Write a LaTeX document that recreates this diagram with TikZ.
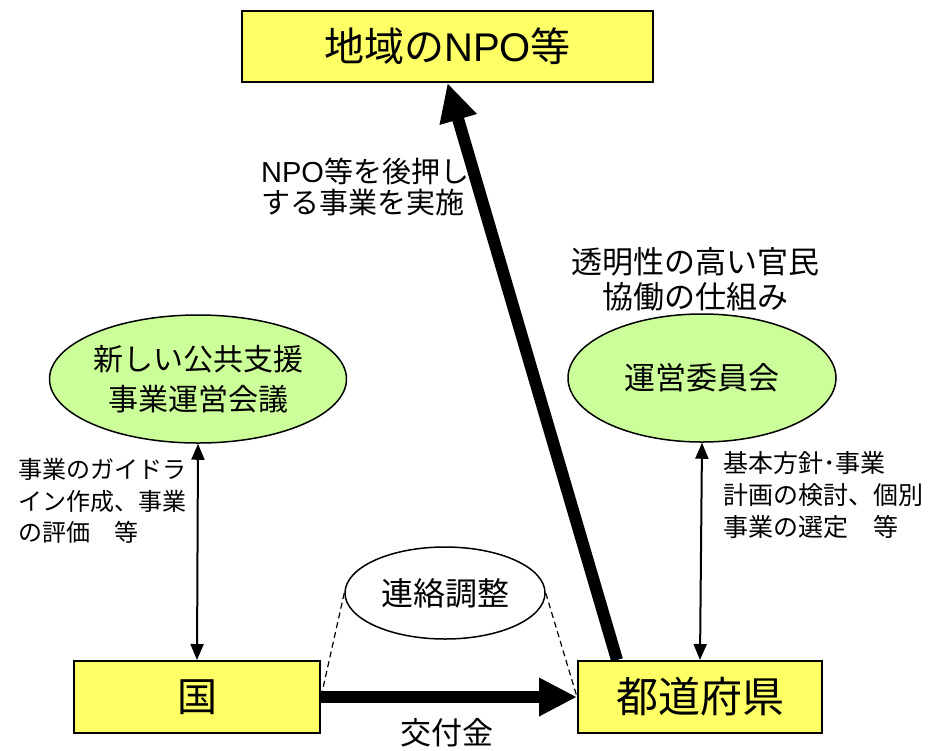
\documentclass[tikz,border=0pt]{standalone}
\usepackage{fontspec}
\setmainfont{Noto Sans CJK JP}
\newfontfamily\latn{Liberation Sans}
\usetikzlibrary{arrows.meta,shapes.geometric}
\definecolor{boxyellow}{HTML}{FFFF66}
\definecolor{ellgreen}{HTML}{CCFF99}
\newcommand{\fsz}[2]{\fontsize{#1}{#2}\selectfont}
\begin{document}
\begin{tikzpicture}[x=1pt,y=-1pt,
  ybox/.style={draw=black, line width=2pt, fill=boxyellow, minimum height=72pt, inner sep=0pt},
  gell/.style={ellipse, draw=black, line width=1.5pt, fill=ellgreen, minimum width=268pt, minimum height=128pt, inner sep=0pt, align=center},
  well/.style={ellipse, draw=black, line width=1.5pt, fill=white, minimum width=200pt, minimum height=92pt, inner sep=0pt},
  lbl/.style={inner sep=0pt, align=left},
  clbl/.style={inner sep=0pt, align=center},
  dblarrow/.style={line width=2pt, {Triangle[length=16pt,width=13pt]}-{Triangle[length=16pt,width=13pt]}},
  bigarrow/.style={line width=12pt, -{Triangle[length=38pt,width=36pt]}},
  dashln/.style={line width=1.2pt, dash pattern=on 6pt off 4pt}
]
\useasboundingbox (0,0) rectangle (941,750);

% boxes
\node[ybox, minimum width=411pt, minimum height=71pt, font=\fsz{40}{46}] (npo) at (447.5,46.5) {地域の{\latn NPO}等};
\node[ybox, minimum width=246pt, font=\fsz{40}{46}] (kuni) at (197,697) {国};
\node[ybox, minimum width=244pt, font=\fsz{42}{48}] (pref) at (700,697) {都道府県};

% ellipses
\node[gell, font=\fsz{30}{40}] (kaigi) at (198,379) {新しい公共支援\\事業運営会議};
\node[gell, font=\fsz{31}{36}] (iinkai) at (702,378) {運営委員会};
\node[well, font=\fsz{32}{36}] (renraku) at (445,593) {連絡調整};

% connectors
\draw[dashln] (renraku.west) -- (kuni.east);
\draw[dashln] (renraku.east) -- (pref.west);
\draw[bigarrow] ([xshift=-83pt]pref.north) -- (npo.south);
\draw[bigarrow] (kuni.east) -- (pref.west);
\draw[dblarrow] (kaigi.south) -- (kuni.north);
\draw[dblarrow] (iinkai.south) -- (pref.north);

% labels
\node[lbl, anchor=west, font=\fsz{29}{31}] (l1) at (261,187) {{\latn NPO}等を後押し\\する事業を実施};
\node[clbl, font=\fsz{31}{35}] (l2) at (695,279) {透明性の高い官民\\協働の仕組み};
\node[lbl, anchor=west, font=\fsz{24}{31.5}] (l3) at (18,501) {事業のガイドラ\\イン作成、事業\\の評価　等};
\node[lbl, anchor=west, font=\fsz{25}{32}] (l4) at (723,495) {基本方針･事業\\計画の検討、個別\\事業の選定　等};
\node[clbl, font=\fsz{31}{34}] (l5) at (447,733) {交付金};
\end{tikzpicture}
\end{document}
